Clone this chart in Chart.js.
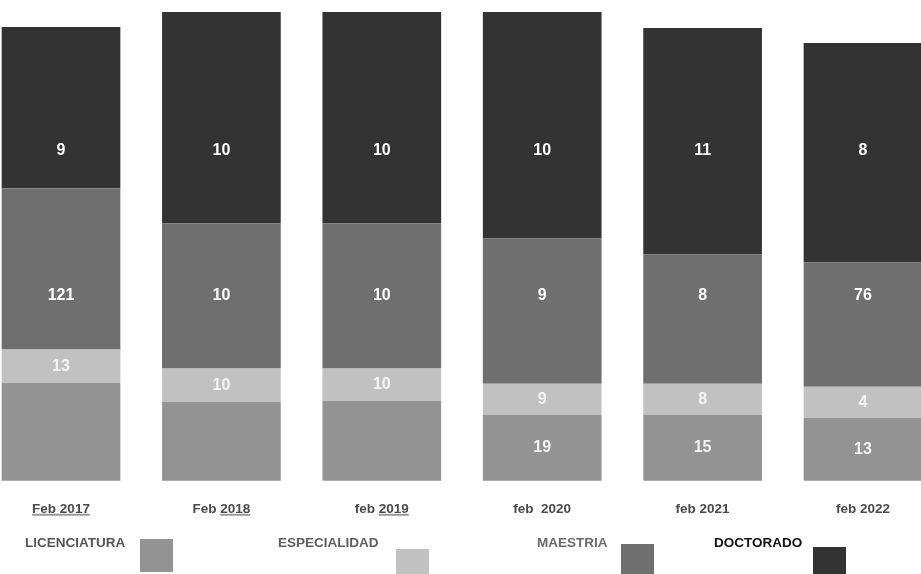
<!DOCTYPE html>
<html>
<head>
<meta charset="utf-8">
<script src="https://cdn.jsdelivr.net/npm/chart.js@4.4.1/dist/chart.umd.min.js"></script>
<style>
  html, body { margin: 0; padding: 0; background: #fff; }
  #gradosChart { display: block; }
</style>
</head>
<body>
<canvas id="gradosChart" width="921" height="574"></canvas>
<script>
//---------------------------------------------- DATOS ---------------------------------------------------
const periodos = ["Feb 2017", "Feb 2018", "feb 2019", "feb  2020", "feb 2021", "feb 2022"];
const subrayado = ["Feb 2017", "2018", "2019", "", "", ""]; // parte subrayada de cada periodo

// alto de cada tramo tal como aparece dibujado
const licenciatura = [98, 79, 80, 66, 66, 63];
const especialidad = [33, 33, 32, 31, 31, 31];
const maestria = [161, 145, 145, 145, 129, 124];
const doctorado = [161, 211, 211, 226, 226, 219];

// cifras escritas sobre cada tramo
const etiquetasLic = ["", "", "", "19", "15", "13"];
const etiquetasEsp = ["13", "10", "10", "9", "8", "4"];
const etiquetasMae = ["121", "10", "10", "9", "8", "76"];
const etiquetasDoc = ["9", "10", "10", "10", "11", "8"];

const FUENTE = "'Liberation Sans', Arial, sans-serif";

//---------------------------------------------- PLUGINS ---------------------------------------------------
// numeros sobre las barras
const etiquetasPlugin = {
  id: "etiquetas",
  afterDatasetsDraw(chart) {
    const ctx = chart.ctx;
    const y = chart.scales.y;
    ctx.save();
    ctx.textAlign = "center";
    ctx.textBaseline = "middle";
    ctx.font = "bold 16px " + FUENTE;
    chart.data.datasets.forEach((ds, i) => {
      const meta = chart.getDatasetMeta(i);
      meta.data.forEach((bar, j) => {
        const txt = ds.etiquetas[j];
        if (!txt) return;
        const py = ds.nivelEtiqueta != null ? y.getPixelForValue(ds.nivelEtiqueta) : (bar.y + bar.base) / 2;
        ctx.fillStyle = ds.colorEtiqueta;
        ctx.fillText(txt, bar.x, py);
      });
    });
    ctx.restore();
  },
};

// subrayado de los periodos
const subrayadoPlugin = {
  id: "subrayado",
  afterDraw(chart) {
    const ctx = chart.ctx;
    const x = chart.scales.x;
    ctx.save();
    ctx.font = "bold 13.5px " + FUENTE;
    ctx.strokeStyle = "#9a9a9a";
    ctx.lineWidth = 2;
    periodos.forEach((p, i) => {
      const s = subrayado[i];
      if (!s) return;
      const total = ctx.measureText(p).width;
      const inicio = x.getPixelForTick(i) - total / 2 + ctx.measureText(p.slice(0, p.indexOf(s))).width;
      const ly = x.top + 34;
      ctx.beginPath();
      ctx.moveTo(inicio, ly);
      ctx.lineTo(inicio + ctx.measureText(s).width, ly);
      ctx.stroke();
    });
    ctx.restore();
  },
};

// leyenda: texto y cuadro al lado
const leyendaPlugin = {
  id: "leyenda",
  afterDraw(chart, args, opts) {
    const ctx = chart.ctx;
    ctx.save();
    ctx.font = "bold 13.5px " + FUENTE;
    ctx.textBaseline = "middle";
    ctx.textAlign = "left";
    chart.data.datasets.forEach((ds, i) => {
      const pos = opts.posiciones[i];
      ctx.fillStyle = pos.colorTexto;
      ctx.fillText(ds.label, pos.tx, pos.ty);
      ctx.fillStyle = ds.backgroundColor;
      ctx.fillRect(pos.bx, pos.by, 33, 33);
    });
    ctx.restore();
  },
};

//---------------------------------------------- GRAFICO ---------------------------------------------------
const gradosCTX = document.getElementById("gradosChart");

const dataGrados = {
  labels: periodos,
  datasets: [
    {
      label: "LICENCIATURA",
      data: licenciatura,
      etiquetas: etiquetasLic,
      backgroundColor: "#939393",
      colorEtiqueta: "#f2f2f2",
    },
    {
      label: "ESPECIALIDAD",
      data: especialidad,
      etiquetas: etiquetasEsp,
      backgroundColor: "#c1c1c1",
      colorEtiqueta: "#f4f4f4",
    },
    {
      label: "MAESTRIA",
      data: maestria,
      etiquetas: etiquetasMae,
      backgroundColor: "#6f6f6f",
      colorEtiqueta: "#ffffff",
      nivelEtiqueta: 185,
    },
    {
      label: "DOCTORADO",
      data: doctorado,
      etiquetas: etiquetasDoc,
      backgroundColor: "#333333",
      colorEtiqueta: "#ffffff",
      nivelEtiqueta: 330,
    },
  ],
};

const configGrados = {
  type: "bar",
  data: dataGrados,
  options: {
    responsive: false,
    animation: false,
    layout: {
      padding: { top: 10, left: 61, right: 58, bottom: 37 },
    },
    datasets: {
      bar: {
        categoryPercentage: 1,
        barPercentage: 0.74,
        borderWidth: 0,
        clip: false,
      },
    },
    plugins: {
      legend: { display: false },
      tooltip: { enabled: false },
      leyenda: {
        posiciones: [
          { tx: 25, ty: 543, bx: 140, by: 539, colorTexto: "#555555" },
          { tx: 278, ty: 543, bx: 396, by: 549, colorTexto: "#5e5e5e" },
          { tx: 537, ty: 543, bx: 621, by: 544, colorTexto: "#6a6a6a" },
          { tx: 714, ty: 543, bx: 813, by: 547, colorTexto: "#111111" },
        ],
      },
    },
    scales: {
      x: {
        stacked: true,
        offset: false,
        grid: { display: false, drawTicks: false },
        border: { display: false },
        ticks: {
          color: "#4a4a4a",
          padding: 20,
          maxRotation: 0,
          autoSkip: false,
          font: { size: 13.5, weight: "bold", family: FUENTE },
        },
      },
      y: {
        stacked: true,
        display: false,
        min: 0,
        max: 470,
      },
    },
  },
  plugins: [etiquetasPlugin, subrayadoPlugin, leyendaPlugin],
};

const gradosChart = new Chart(gradosCTX, configGrados);
</script>
</body>
</html>
